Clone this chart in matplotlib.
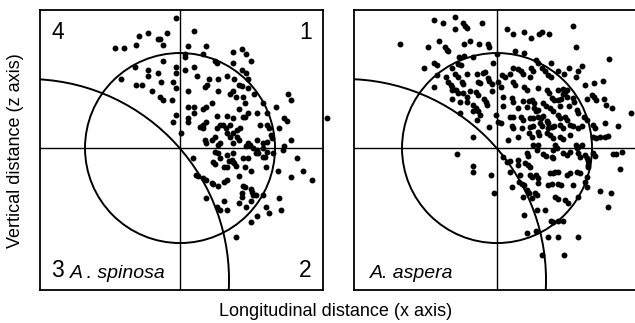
import numpy as np
import matplotlib
matplotlib.use("Agg")
import matplotlib.pyplot as plt
from matplotlib.patches import Circle

plt.rcParams['font.family'] = ['Liberation Sans', 'DejaVu Sans']

# A. spinosa: positions (x, z) relative to the origin
spinosa_x = [-0.4, -4.1, -3.2, -2.2, -2.0, -1.3, -4.4, -1.7, -6.5, -5.6, -1.7, -4.5, -3.2, -2.2, -0.4,
             -0.4, -5.9, -3.2, -1.9, -0.7, -4.4, -3.8, -0.4, -2.8, -2.0, -1.7, -0.8, -0.4, -0.7,
             1.4, 0.8, 2.6, 0.5, 0.5, 2.3, 5.3, 6.2, 6.6, 7.1, 3.5, 3.7, 5.3, 1.4, 0.5, 6.2, 6.6,
             1.7, 4.7, 2.9, 3.8, 5.4, 2.7, 2.5, 6.8, 5.9, 6.2, 6.8, 0.8, 3.8, 5.3, 5.0, 7.4, 5.6,
             6.3, 10.8, 11.1, 8.3, 9.6, 6.5, 0.8, 1.4, 2.3, 2.6, 3.2, 1.4, 5.9, 5.3, 6.8, 7.7, 8.7,
             6.3, 6.5, 3.7, 4.7, 0.8, 0.8, 2.6, 2.3, 2.3, 3.7, 4.0, 4.3, 4.6, 5.0, 8.0, 8.7, 8.9,
             9.9, 10.4, 10.7, 14.7, 0.1, 2.5, 2.6, 3.2, 4.7, 5.0, 5.3, 5.7, 5.9, 6.8, 7.7, 8.3, 9.1,
             9.2, 11.1, 10.4, 3.8, 6.6, 2.0, 3.5, 4.0, 5.3, 7.0, 8.7, 6.0, 5.7,
             7.3, 7.7, 8.3, 8.7, 10.3, 1.3, 3.5, 3.8, 4.7, 5.3, 6.3, 6.8, 7.6, 7.8, 8.3, 8.5, 9.3,
             11.7, 3.3, 3.5, 4.0, 4.9, 5.2, 5.3, 5.6, 5.4, 4.4, 4.7, 6.5, 7.1, 8.6, 9.8, 12.3, 11.1,
             13.2, 1.6, 1.8, 2.3, 2.6, 3.2, 3.3, 3.8, 4.4, 4.7, 5.9, 6.3, 6.5, 7.1, 7.2, 6.2, 6.2,
             7.3, 7.6, 8.3, 2.6, 4.4, 5.9, 6.6, 7.1, 9.9, 3.7, 4.0, 4.7, 8.6, 8.9, 10.1, 7.7, 7.1, 5.6]
spinosa_z = [13.0, 11.2, 11.5, 10.9, 10.9, 11.5, 10.3, 10.3, 10.0, 10.0, 8.7, 8.1, 7.8, 7.5, 8.1,
             7.5, 6.9, 7.2, 6.6, 6.6, 6.3, 6.3, 6.0, 5.7, 5.1, 4.8, 4.8, 3.3, 2.6,
             11.7, 10.2, 10.2, 9.4, 9.1, 9.4, 9.6, 9.9, 9.4, 8.7, 8.7, 8.5, 8.5, 8.1, 7.8, 7.8, 7.5,
             7.2, 7.2, 6.9, 6.9, 6.9, 6.3, 6.1, 6.9, 6.3, 6.2, 6.0, 5.7, 5.7, 5.7, 5.4, 5.4, 5.1,
             5.1, 5.4, 4.8, 4.5, 4.1, 4.5, 4.1, 4.1, 3.9, 4.1, 4.5, 3.5, 3.9, 3.0, 3.5, 3.5, 3.5,
             3.1, 3.1, 3.2, 3.2, 3.0, 2.6, 2.6, 2.3, 2.0, 2.0, 2.3, 2.3, 2.0, 2.3, 2.3, 2.3, 2.0,
             2.0, 3.0, 2.7, 3.0, 1.5, 0.8, 0.5, 0.8, 1.5, 1.1, 1.5, 1.1, 0.8, 0.5, 0.8, 0.5, 1.3,
             1.0, 0.8, 0.2, 0.3, 0.2, 2.1, 1.1, 0.5, 0.5, 0.3, 0.6, 2.0, 1.8,
             0.0, -0.2, 0.0, -0.4, -0.2, -1.0, -0.4, -0.5, -0.7, -0.5, -1.0, -1.0, -0.5, -0.5, -0.9,
             -0.9, -0.5, -1.0, -1.4, -1.6, -1.0, -1.3, -1.2, -1.4, -1.8, -1.5, -1.9, -1.9, -1.9,
             -2.3, -1.9, -2.3, -2.3, -2.9, -3.2, -2.7, -2.8, -3.0, -3.2, -3.5, -3.6, -3.8, -3.4,
             -3.2, -2.8, -3.8, -3.9, -4.1, -4.4, -4.5, -4.9, -4.7, -4.7, -4.7, -5.0, -5.3, -5.5,
             -5.9, -5.3, -5.0, -5.9, -6.2, -6.2, -5.9, -6.5, -6.2, -6.8, -7.4, -8.9]

# A. aspera
aspera_x = [-4.2, -6.3, -5.4, -3.4, -3.2, -3.0, -4.2, -1.5, 1.0, 1.6, 2.7, 3.4, 4.2, 4.5, 5.2, 7.6,
            -9.7, -6.9, -5.8, -5.2, -5.0, -4.9, -3.3, -2.7, -1.8, -0.9, -0.8, 7.9, 1.8, 2.7, 0.0,
            -3.8, -3.3, -2.4, 11.2, 3.9, 4.1, 5.4, -6.3, -6.0, -3.9, -3.6, -7.3, -4.5, -0.4, 1.6,
            2.1, 3.4, 3.6, 4.5, 4.8, 6.1, 7.2, 8.1, 8.5, -6.0, -5.1, -4.2, -3.9, -3.0, -2.0, -1.4,
            -1.2, -0.9, -0.8, 0.5, 0.8, 1.3, 2.4, 2.6, 3.3, 5.1, 5.4, 6.7, 7.9, -4.9, -3.5, -3.4,
            -1.9, -1.7, -0.5, 0.1, 0.4, 1.6, 1.8, 2.7, 3.0, 4.1, 5.0, 5.2, 6.1, 6.6, 6.8, 7.0, 8.8,
            9.7, 10.6, -6.3, -4.6, -4.5, -4.5, -4.1, -3.9, -3.4, -3.0, -2.7, -2.1, -1.9, -0.5,
            -4.5, -3.7, -3.0, -2.4, -2.1, -1.9, -1.3, -1.1, -1.0, 0.6, 0.6, 1.5, 1.6, 2.6, 3.2,
            3.5, 3.7, 4.6, 4.9, 5.5, 5.7, 6.1, 6.4, 6.6, 7.0, 7.6, 7.7, 7.2, 6.3, 9.0, 9.5, 9.7,
            9.9, 10.7, 10.9, 2.1, 3.0, 3.7, 3.9, 4.1, 5.3, 5.6, 8.0, 8.1, 11.5, 13.4, -2.4, -3.7,
            -1.7, -0.1, 0.1, 0.4, 1.3, 1.6, 2.4, 2.6, 3.3, 3.6, 4.1, 4.4, 4.6, 5.0, 5.1, 6.1, 6.3,
            6.8, 7.0, 8.7, 9.0, -2.0, -0.8, 1.5, 1.6, 2.5, 3.3, 3.6, 4.3, 4.5, 5.1, 5.5, 5.7, 6.3,
            6.6, 7.3, 7.6, 8.1, 8.5, 9.6, 9.8, 10.8, 12.1, -2.4, 1.1, 2.1, 3.2, 3.5, 4.1, 4.2, 5.0,
            5.3, 5.6, 6.3, 6.6, 7.3, 7.9, 8.1, 8.5, 9.6, 9.9, 10.3, 10.8, 11.1, 3.6, 4.1, 5.8,
            -4.0, -2.4, -2.4, -0.6, -0.3, 0.6, 1.0, 1.3, 1.3, 2.1, 2.1, 2.8, 3.1, 3.3, 3.0, 3.1,
            2.3, 3.3, 3.5, 3.9, 4.1, 4.1, 2.2, 2.5, 2.7, 1.5, 3.0, 3.2, 3.8, 4.0, 2.6, 3.5, 4.6,
            4.9, 5.5, 5.6, 4.0, 5.6, 6.0, 6.6, 7.0, 7.3, 8.0, 8.1, 8.3, 8.8, 9.0, 9.6, 9.8, 11.6,
            11.9, 12.5, 12.3, 9.1, 9.1, 9.1, 5.3, 5.6, 5.8, 6.1, 7.0, 7.3, 8.0, 8.3, 9.0, 8.8, 5.1,
            5.5, 6.1, 6.4, 7.6, 9.0, 10.3, 11.4, 11.1, 5.8, 6.1, 6.8, 7.1, 8.1, 2.7, 4.0, 4.8, 5.4,
            5.6, 6.1, 6.6, 3.0, 3.9, 5.1, 6.1, 8.1, 4.5, 6.7]
aspera_z = [13.1, 12.8, 12.5, 12.5, 12.2, 12.0, 11.9, 12.5, 11.9, 11.4, 11.6, 11.0, 11.4, 11.6, 11.4,
            12.2, 10.4, 10.1, 10.7, 10.1, 9.8, 9.7, 10.4, 10.7, 10.4, 10.4, 10.1, 10.1, 9.7, 9.5,
            9.4, 9.1, 9.2, 9.1, 8.9, 8.8, 8.5, 8.5, 8.5, 8.3, 8.4, 8.3, 8.0, 8.0, 8.5, 8.0, 7.9,
            8.0, 7.7, 8.0, 7.7, 7.7, 8.0, 7.7, 8.2, 7.3, 7.1, 7.4, 7.1, 7.4, 7.4, 7.5, 7.6, 7.0,
            6.7, 7.3, 7.1, 7.4, 7.7, 7.4, 7.1, 7.3, 7.1, 7.4, 7.1, 6.6, 6.6, 6.4, 6.6, 6.5, 6.4,
            6.6, 6.1, 6.6, 6.3, 6.1, 5.8, 6.0, 5.8, 5.5, 5.8, 5.9, 5.6, 5.8, 6.3, 6.5, 6.7, 6.1,
            6.3, 6.1, 5.8, 5.8, 5.5, 5.5, 5.1, 5.7, 5.6, 5.3, 5.7, 4.9, 4.6, 4.6, 4.3, 4.0, 3.7,
            4.9, 4.6, 4.3, 5.1, 4.2, 5.0, 4.6, 4.7, 4.7, 4.8, 4.5, 4.5, 4.2, 5.0, 4.8, 4.8, 4.9,
            5.4, 5.1, 5.0, 4.6, 4.2, 4.2, 4.9, 5.3, 5.1, 4.8, 4.9, 4.3, 4.0, 4.1, 4.0, 3.7, 3.8,
            4.0, 3.7, 3.8, 3.5, 4.0, 3.5, 3.7, 3.5, 3.3, 3.3, 2.6, 2.5, 3.1, 3.1, 3.1, 2.8, 3.0,
            3.0, 3.1, 3.0, 3.2, 2.7, 2.5, 3.3, 3.0, 3.1, 2.8, 3.1, 2.8, 2.8, 2.1, 2.2, 2.0, 2.0,
            2.1, 2.2, 2.5, 2.2, 2.0, 2.1, 2.2, 2.3, 2.0, 2.3, 2.2, 2.0, 2.2, 2.3, 2.0, 2.5, 2.2,
            1.1, 0.8, 1.1, 1.5, 1.1, 1.6, 1.3, 1.5, 1.3, 1.0, 1.1, 0.9, 1.3, 0.3, 0.1, 0.3, 1.1,
            1.0, 1.1, 1.1, 1.2, 0.3, 0.3, 0.3,
            -0.6, -1.8, -2.4, -2.7, -4.5, -0.9, -1.4, -1.3, -2.4, -1.2, -1.7, -1.5, -1.7, -1.9,
            -0.5, -0.8, -2.7, -2.7, -2.9, -2.7, -3.0, -3.5, -3.4, -3.6, -3.7, -3.9, -4.2, -4.5,
            -4.5, -4.7, -4.9, -5.0, -0.6, -0.8, -0.9, -1.0, -0.2, -0.2, 0.0, -0.5, -0.7, -0.4,
            0.0, -0.5, -0.9, -0.7, -1.0, -0.5, -0.8, -0.6, -0.6, -0.4, -2.1, -1.3, -1.7, -1.9,
            -2.5, -2.5, -2.4, -2.4, -2.7, -2.5, -2.4, -2.5, -2.9, -3.4, -3.7, -3.6, -3.6, -3.7,
            -3.7, -3.9, -4.3, -4.5, -5.9, -4.9, -5.1, -5.2, -5.5, -4.9, -6.7, -6.2, -6.2, -7.3,
            -7.4, -7.3, -7.3, -8.5, -8.3, -8.9, -8.9, -8.9, -10.7, -10.7]

panels = [
    ("spinosa", spinosa_x, spinosa_z, (-14.0, 14.3)),
    ("aspera", aspera_x, aspera_z, (-14.3, 14.3)),
]
ylim = (-14.2, 13.8)
circle_r = 9.5
arc_center = (-15.2, -13.2)
arc_r = 20.1

fig = plt.figure(figsize=(6.35, 3.23), dpi=100)
ax1 = fig.add_axes([0.063, 0.102, 0.4457, 0.867])
ax2 = fig.add_axes([0.5575, 0.102, 0.4504, 0.867])

for ax, (name, xs, zs, xlim) in zip([ax1, ax2], panels):
    ax.set_xlim(*xlim)
    ax.set_ylim(*ylim)
    ax.axhline(0, color="black", lw=1.0)
    ax.axvline(0, color="black", lw=1.0)
    ax.add_patch(Circle((0, 0), circle_r, fill=False, ec="black", lw=1.4))
    ax.add_patch(Circle(arc_center, arc_r, fill=False, ec="black", lw=1.4))
    ax.scatter(xs, zs, s=18, c="black", linewidths=0, clip_on=False, zorder=3)
    ax.set_xticks([])
    ax.set_yticks([])
    for s in ax.spines.values():
        s.set_linewidth(1.3)

# quadrant numbers
ax1.text(0.04, 0.96, "4", transform=ax1.transAxes, fontsize=16.5, va="top", ha="left")
ax1.text(0.96, 0.96, "1", transform=ax1.transAxes, fontsize=16.5, va="top", ha="right")
ax1.text(0.04, 0.03, "3", transform=ax1.transAxes, fontsize=16.5, va="bottom", ha="left")
ax1.text(0.96, 0.03, "2", transform=ax1.transAxes, fontsize=16.5, va="bottom", ha="right")
ax1.text(0.105, 0.03, "A . spinosa", transform=ax1.transAxes, fontsize=14,
         style="italic", va="bottom", ha="left")
ax2.text(0.055, 0.03, "A. aspera", transform=ax2.transAxes, fontsize=14,
         style="italic", va="bottom", ha="left")

fig.text(0.528, 0.035, "Longitudinal distance (x axis)", fontsize=13, ha="center", va="center")
fig.text(0.024, 0.535, "Vertical distance (z axis)", fontsize=13, ha="center", va="center",
         rotation=90)

fig.savefig("out.png", dpi=100)
